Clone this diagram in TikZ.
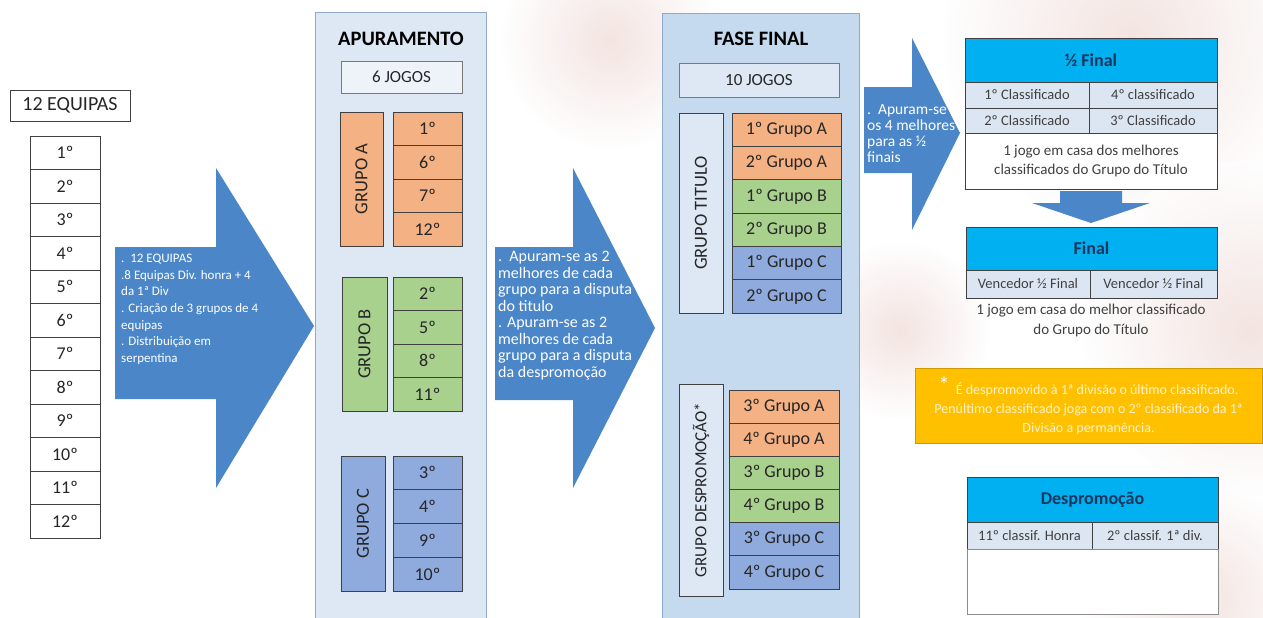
\documentclass[tikz,border=0pt]{standalone}
\usepackage{fontspec}
\setmainfont{Carlito}
\definecolor{abl}{HTML}{4A86C8}
\definecolor{pan1}{HTML}{DDE8F4}
\definecolor{pan2}{HTML}{C5DAEE}
\definecolor{panline}{HTML}{8FA9C9}
\definecolor{org}{HTML}{F4B183}
\definecolor{grn}{HTML}{A9D18E}
\definecolor{blu}{HTML}{8FAADC}
\definecolor{dline}{HTML}{404040}
\definecolor{cyanh}{HTML}{00B0F0}
\definecolor{navy}{HTML}{17375E}
\definecolor{rowf}{HTML}{DCE6F2}
\definecolor{ylw}{HTML}{FFC000}
\definecolor{ytx}{HTML}{FFF2CC}
\definecolor{txt}{HTML}{262626}
\definecolor{pinkbg}{HTML}{EBD2CD}
\newcommand\fs[2]{\fontsize{#1}{#2}\selectfont}
\begin{document}
\begin{tikzpicture}[x=1pt,y=-1pt,
  cell/.style={draw=dline, line width=0.9pt, inner sep=0pt, align=center, text=txt},
  panel/.style={draw=panline, line width=1pt, inner sep=0pt},
  item/.style={cell, font=\fs{18}{21}},
  glabel/.style={cell, rotate=90, font=\fs{18.5}{22}},
  fitem/.style={cell, font=\fs{18}{21}},
  tcell/.style={cell, fill=rowf, font=\fs{14.5}{17}, text=dline},
  thead/.style={cell, fill=cyanh, font=\bfseries\fs{18}{21}, text=navy},
  atext/.style={anchor=north west, inner sep=0pt, align=left, text=white},
  blob/.style={inner color=pinkbg, outer color=white, fill opacity=0.6}
]
\useasboundingbox (0,0) rectangle (1263,618);
\fill[white] (0,0) rectangle (1263,618);
% soft background texture
\shade[blob] (1130,40) circle (190);
\shade[blob] (1250,330) circle (170);
\shade[blob] (610,40) circle (110);
\shade[blob] (900,330) circle (90);
\shade[blob] (1200,600) circle (120);

% left list
\node[cell, fill=white, minimum width=120, minimum height=31, font=\fs{20}{23}] (eq) at (70,105.5) {12 EQUIPAS};
\foreach \i in {1,...,12}{
  \node[item, fill=white, minimum width=70, minimum height=33.5] (l\i) at (65,{136+(\i-0.5)*33.5}) {\i{}º};
}

% arrow 1
\fill[abl] (115,247) -- (216,247) -- (216,168) -- (314,326) -- (216,488) -- (216,399) -- (115,399) -- cycle;
\node[atext, font=\fs{13}{16.6}] (t1) at (121,254) {.\ \ 12 EQUIPAS\\.8 Equipas Div. honra + 4\\da 1ª Div\\. Criação de 3 grupos de 4\\equipas\\. Distribuição em\\serpentina};

% apuramento
\node[panel, fill=pan1, minimum width=171, minimum height=640, anchor=north west] (apu) at (315,12.5) {};
\node[font=\bfseries\fs{20.5}{24}, text=black] (apt) at (401,38.5) {APURAMENTO};
\node[cell, fill=pan1!50!white, draw=dline!70, minimum width=121, minimum height=32, font=\fs{17}{20}] (j6) at (401.5,77) {6 JOGOS};

\node[glabel, fill=org, minimum width=134, minimum height=43] (ga) at (361.5,179) {GRUPO A};
\foreach \t [count=\k] in {1º,6º,7º,12º}
  \node[item, fill=org, minimum width=69, minimum height=33.5] (a\k) at (427.5,{112+(\k-0.5)*33.5}) {\t};

\node[glabel, fill=grn, minimum width=134, minimum height=45] (gb) at (364.5,344) {GRUPO B};
\foreach \t [count=\k] in {2º,5º,8º,11º}
  \node[item, fill=grn, minimum width=69, minimum height=33.5] (b\k) at (427.5,{277+(\k-0.5)*33.5}) {\t};

\node[glabel, fill=blu, minimum width=135, minimum height=44] (gc) at (363,523.5) {GRUPO C};
\foreach \t [count=\k] in {3º,4º,9º,10º}
  \node[item, fill=blu, minimum width=69, minimum height=33.75] (c\k) at (427.5,{456+(\k-0.5)*33.75}) {\t};

% arrow 2
\fill[abl] (495,247) -- (573,247) -- (573,168) -- (655,328) -- (573,488) -- (573,400) -- (495,400) -- cycle;
\node[atext, font=\fs{16}{16.5}] (t2) at (498,251) {.\ \ Apuram-se as 2\\melhores de cada\\grupo para a disputa\\do titulo\\. Apuram-se as 2\\melhores de cada\\grupo para a disputa\\da despromoção};

% fase final
\node[panel, fill=pan2, minimum width=197, minimum height=640, anchor=north west] (ff) at (662,13) {};
\node[font=\bfseries\fs{20.5}{24}, text=black] (fft) at (761,39) {FASE FINAL};
\node[cell, fill=pan1, draw=dline!70, minimum width=160, minimum height=34, font=\fs{17}{20}] (j10) at (759,80) {10 JOGOS};

\node[glabel, fill=pan1, minimum width=200, minimum height=44] (gt) at (701,213) {GRUPO TITULO};
\foreach \t/\c [count=\k] in {1º Grupo A/org,2º Grupo A/org,1º Grupo B/grn,2º Grupo B/grn,1º Grupo C/blu,2º Grupo C/blu}
  \node[fitem, fill=\c, minimum width=109, minimum height=33.33] (ft\k) at (786.5,{113+(\k-0.5)*33.33}) {\t};

\node[glabel, fill=pan1, minimum width=212, minimum height=44, font=\fs{17}{20}] (gd) at (701,490) {GRUPO DESPROMOÇÃO*};
\foreach \t/\c [count=\k] in {3º Grupo A/org,4º Grupo A/org,3º Grupo B/grn,4º Grupo B/grn,3º Grupo C/blu,4º Grupo C/blu}
  \node[fitem, fill=\c, minimum width=110, minimum height=33.17] (fd\k) at (784,{390+(\k-0.5)*33.17}) {\t};

% arrow 3
\fill[abl] (864,87) -- (912,87) -- (912,38) -- (960,133) -- (912,230) -- (912,173) -- (864,173) -- cycle;
\node[atext, font=\fs{15.5}{16}] (t3) at (867,104) {.\ \ Apuram-se\\os 4 melhores\\para as ½\\finais};

% 1/2 final
\node[thead, minimum width=252, minimum height=44] (sfh) at (1091,60) {½ Final};
\node[tcell, minimum width=124, minimum height=26] (s11) at (1027,95) {1º Classificado};
\node[tcell, minimum width=128, minimum height=26] (s12) at (1153,95) {4º classificado};
\node[tcell, minimum width=124, minimum height=25] (s21) at (1027,120.5) {2º Classificado};
\node[tcell, minimum width=128, minimum height=25] (s22) at (1153,120.5) {3º Classificado};
\node[cell, fill=white, minimum width=252, minimum height=56, font=\fs{15}{19}, text=dline] (sff) at (1091,161) {1 jogo em casa dos melhores\\classificados do Grupo do Título};

% down arrow
\fill[abl] (1060,191) -- (1122,191) -- (1122,203) -- (1150,203) -- (1091,223) -- (1032,203) -- (1060,203) -- cycle;

% final
\node[thead, minimum width=251, minimum height=43] (fh) at (1091.5,248.5) {Final};
\node[tcell, minimum width=124, minimum height=28] (f1) at (1028,284) {Vencedor ½ Final};
\node[tcell, minimum width=127, minimum height=28] (f2) at (1153.5,284) {Vencedor ½ Final};
\node[font=\fs{15}{20}, text=dline, align=center] (fn) at (1091,320) {1 jogo em casa do melhor classificado\\do Grupo do Título};

% yellow note
\node[fill=ylw, draw=ylw!80!black, line width=0.6pt, minimum width=347, minimum height=75, inner sep=0pt,
      font=\fs{14}{19}, text=ytx, align=center] (yb) at (1088.5,405.5)
  {\raisebox{2pt}{\textcolor{white}{\fs{22}{19}*}}\ \ É despromovido à 1ª divisão o último classificado.\\Penúltimo classificado joga com o 2º classificado da 1ª\\Divisão a permanência.};

% despromocao
\node[thead, minimum width=251, minimum height=45] (dh) at (1092.5,499.5) {Despromoção};
\node[tcell, minimum width=125, minimum height=27] (d1) at (1029.5,535.5) {11º classif. Honra};
\node[tcell, minimum width=126, minimum height=27] (d2) at (1155,535.5) {2º classif. 1ª div.};
\node[cell, fill=white, draw=dline!60, minimum width=251, minimum height=65] (db) at (1092.5,581.5) {};
\end{tikzpicture}
\end{document}
